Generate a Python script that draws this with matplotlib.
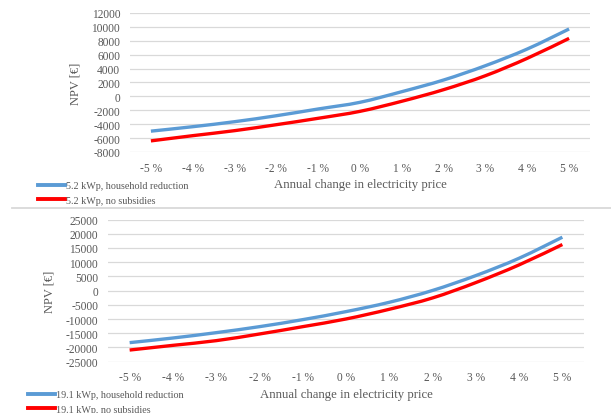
import matplotlib
matplotlib.use("Agg")
import matplotlib.pyplot as plt
from matplotlib.lines import Line2D
from matplotlib.path import Path
from matplotlib.patches import PathPatch

categories = ["-5 %", "-4 %", "-3 %", "-2 %", "-1 %", "0 %", "1 %", "2 %", "3 %", "4 %", "5 %"]

top_household = [-5000, -4360, -3640, -2780, -1810, -850, 680, 2360, 4420, 6820, 9700]
top_nosub = [-6400, -5650, -4930, -4070, -3150, -2150, -700, 970, 2980, 5480, 8350]
top_labels = ["5.2 kWp, household reduction", "5.2 kWp, no subsidies"]
top_yticks = list(range(-8000, 12001, 2000))

bot_household = [-18300, -16670, -14790, -12680, -10210, -7390, -4110, 50, 5280, 11380, 18780]
bot_nosub = [-20900, -19250, -17600, -15260, -12680, -9980, -6570, -2580, 2820, 9040, 16200]
bot_labels = ["19.1 kWp, household reduction", "19.1 kWp, no subsidies"]
bot_yticks = list(range(-25000, 25001, 5000))

xlabel = "Annual change in electricity price"
ylabel = "NPV [€]"

BLUE = "#5B9BD5"
RED = "#FF0000"
TXT = "#595959"
GRID = "#D9D9D9"
LW = 2.4

plt.rcParams['font.family'] = ['Liberation Serif', 'DejaVu Serif']

W, H = 611, 414
fig = plt.figure(figsize=(W / 100, H / 100), dpi=100)


def px_axes(x0, y0, x1, y1):
    return fig.add_axes([x0 / W, 1 - y1 / H, (x1 - x0) / W, (y1 - y0) / H])


def smooth_line(ax, xs, ys, color):
    # Excel-style smoothed line: Catmull-Rom converted to cubic Bezier
    n = len(xs)
    verts = [(xs[0], ys[0])]
    codes = [Path.MOVETO]
    t = 1.0 / 6.0
    for i in range(n - 1):
        x0, y0 = xs[max(i - 1, 0)], ys[max(i - 1, 0)]
        x1, y1 = xs[i], ys[i]
        x2, y2 = xs[i + 1], ys[i + 1]
        x3, y3 = xs[min(i + 2, n - 1)], ys[min(i + 2, n - 1)]
        c1 = (x1 + (x2 - x0) * t, y1 + (y2 - y0) * t)
        c2 = (x2 - (x3 - x1) * t, y2 - (y3 - y1) * t)
        verts += [c1, c2, (x2, y2)]
        codes += [Path.CURVE4] * 3
    ax.add_patch(PathPatch(Path(verts, codes), facecolor='none', edgecolor=color,
                           lw=LW, capstyle='butt', joinstyle='round'))


def style(ax, yticks, ylab_px, ax_x0, ax_w):
    ax.set_xlim(-0.5, len(categories) - 0.5)
    ax.set_xticks(list(range(len(categories))))
    ax.set_xticklabels(categories)
    ax.set_yticks(yticks)
    ax.set_yticklabels([str(v) for v in yticks])
    ax.set_ylim(yticks[0], yticks[-1])
    for s in ax.spines.values():
        s.set_visible(False)
    ax.grid(axis='y', color=GRID, linewidth=0.9)
    ax.set_axisbelow(True)
    ax.tick_params(axis='both', length=0, colors=TXT, labelsize=8.3)
    ax.tick_params(axis='x', pad=7)
    ax.tick_params(axis='y', pad=7)
    ax.set_xlabel(xlabel, fontsize=9.2, color=TXT, labelpad=3)
    ax.set_ylabel(ylabel, fontsize=9, color=TXT)
    ax.yaxis.set_label_coords((ylab_px - ax_x0) / ax_w, 0.5)


xs = list(range(len(categories)))

# Top chart
ax1 = px_axes(130, 14, 590, 153)
smooth_line(ax1, xs, top_household, BLUE)
smooth_line(ax1, xs, top_nosub, RED)
style(ax1, top_yticks, 82, 130, 460)

handles = [Line2D([], [], color=BLUE, lw=2.8), Line2D([], [], color=RED, lw=2.8)]
fig.legend(handles, top_labels, loc='upper left', bbox_to_anchor=(33 / W, 1 - 177 / H),
           frameon=False, fontsize=7.3, handlelength=2.7, handletextpad=0.05,
           labelspacing=0.55, borderpad=0, labelcolor=TXT)

# Separator
fig.add_artist(Line2D([12 / W, 1], [1 - 209.3 / H, 1 - 209.3 / H], color=GRID, lw=1.3,
                      transform=fig.transFigure))

# Bottom chart
ax2 = px_axes(108, 220.5, 584, 362.7)
smooth_line(ax2, xs, bot_household, BLUE)
smooth_line(ax2, xs, bot_nosub, RED)
style(ax2, bot_yticks, 55, 108, 476)

handles2 = [Line2D([], [], color=BLUE, lw=2.8), Line2D([], [], color=RED, lw=2.8)]
fig.legend(handles2, bot_labels, loc='upper left', bbox_to_anchor=(23 / W, 1 - 386 / H),
           frameon=False, fontsize=7.3, handlelength=2.7, handletextpad=0.05,
           labelspacing=0.55, borderpad=0, labelcolor=TXT)

fig.savefig("out.png", dpi=100, facecolor='white')
